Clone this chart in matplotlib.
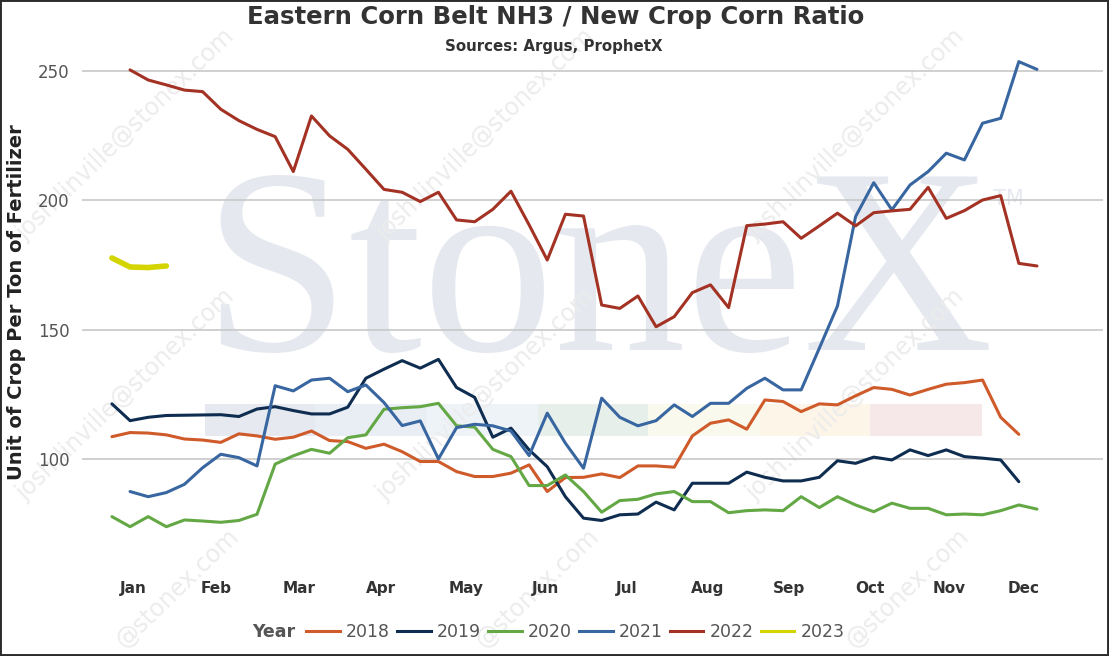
import numpy as np
import matplotlib
matplotlib.use('Agg')
import matplotlib.pyplot as plt
from matplotlib.lines import Line2D
from matplotlib.patches import Rectangle

# Datos semanales (valor), primera semana de cada serie
years = ['2018', '2019', '2020', '2021', '2022', '2023']
start_week = {'2018': -1, '2019': -1, '2020': -1, '2021': 0, '2022': 0, '2023': -1}

r2018 = [108.6, 110.2, 110.0, 109.3, 107.7, 107.3, 106.4, 109.7, 108.9, 107.6,
         108.4, 110.8, 107.1, 106.7, 104.1, 105.7, 102.8, 99.0, 99.0, 95.1,
         93.2, 93.2, 94.5, 97.7, 87.4, 92.8, 92.9, 94.2, 92.8, 97.3,
         97.3, 96.8, 108.9, 113.8, 115.1, 111.5, 122.8, 122.2, 118.3, 121.3,
         120.9, 124.4, 127.6, 126.9, 124.7, 126.9, 128.9, 129.5, 130.5, 116.1,
         109.5]
r2019 = [121.3, 114.8, 116.1, 116.8, 116.9, 117.0, 117.1, 116.4, 119.3, 120.2,
         118.7, 117.4, 117.4, 120.0, 131.2, 134.7, 138.0, 135.1, 138.5, 127.6,
         123.8, 108.4, 111.9, 103.5, 97.0, 85.4, 77.1, 76.2, 78.4, 78.7,
         83.3, 80.3, 90.6, 90.6, 90.6, 94.9, 92.9, 91.5, 91.5, 92.9,
         99.3, 98.3, 100.7, 99.6, 103.5, 101.3, 103.5, 100.9, 100.3, 99.6,
         91.2]
r2020 = [77.7, 73.8, 77.7, 73.8, 76.4, 76.0, 75.5, 76.2, 78.6, 98.0,
         101.2, 103.7, 102.2, 108.2, 109.3, 119.2, 119.8, 120.2, 121.5, 112.8,
         112.3, 103.7, 100.9, 89.7, 89.7, 93.8, 87.4, 79.4, 83.9, 84.4,
         86.5, 87.4, 83.5, 83.5, 79.2, 80.0, 80.3, 80.0, 85.4, 81.2,
         85.4, 82.2, 79.6, 82.9, 80.9, 80.9, 78.4, 78.7, 78.4, 80.0,
         82.2, 80.6]
r2021 = [87.4, 85.4, 87.0, 90.2, 96.6, 101.8, 100.5, 97.3, 128.3, 126.3,
         130.5, 131.2, 126.0, 128.6, 121.8, 112.9, 114.7, 100.0, 112.1, 113.4,
         112.8, 110.8, 101.3, 117.7, 106.1, 96.4, 123.5, 116.1, 112.8, 114.8,
         120.9, 116.4, 121.5, 121.5, 127.3, 131.2, 126.7, 126.7, 142.8, 159.1,
         193.7, 206.8, 196.3, 205.9, 211.1, 218.2, 215.6, 229.8, 231.7, 253.6,
         250.6]
r2022 = [250.4, 246.5, 244.6, 242.6, 242.0, 235.2, 230.8, 227.4, 224.6, 211.1,
         232.6, 224.9, 219.7, 212.0, 204.2, 203.1, 199.5, 203.1, 192.4, 191.7,
         196.5, 203.5, 190.5, 176.9, 194.6, 193.9, 159.5, 158.2, 163.0, 151.1,
         155.0, 164.3, 167.3, 158.5, 190.2, 190.8, 191.7, 185.3, 190.1, 195.0,
         190.1, 195.2, 195.9, 196.5, 205.0, 193.0, 196.0, 200.1, 201.8, 175.6,
         174.6]
r2023 = [177.7, 174.2, 174.0, 174.6]

series = {'2018': r2018, '2019': r2019, '2020': r2020,
          '2021': r2021, '2022': r2022, '2023': r2023}

months = ['Jan', 'Feb', 'Mar', 'Apr', 'May', 'Jun',
          'Jul', 'Aug', 'Sep', 'Oct', 'Nov', 'Dec']
month_pos = [0.17, 4.74, 9.32, 13.84, 18.52, 22.93,
             27.40, 31.86, 36.33, 40.79, 45.15, 49.28]
y_ticks = [100, 150, 200, 250]

colors = {'2018': '#cf5a2a', '2019': '#0e2d50', '2020': '#63a844',
          '2021': '#3866a0', '2022': '#a33224', '2023': '#d4d400'}

W, H = 1109, 656


def fx(px):
    return px / W


def fy(py):
    return 1 - py / H


def marca_agua(fig):
    # Barra de colores del logo
    bar_colors = ['#e6e9ef', '#e9edf4', '#eef3f8', '#e6efea',
                  '#f9f9ee', '#fdf5e8', '#f6e7e9']
    edges = [205, 315, 427, 538, 648, 760, 870, 982]
    for k, c in enumerate(bar_colors):
        r = Rectangle((fx(edges[k]), fy(436)), fx(edges[k + 1] - edges[k]),
                      (436 - 404) / H, transform=fig.transFigure,
                      facecolor=c, edgecolor='none', zorder=-2)
        fig.add_artist(r)
    fig.text(fx(202), fy(350), 'StoneX', ha='left', va='baseline',
             fontsize=190, family='Liberation Serif', color='#e5e9ef',
             zorder=-2)
    fig.text(fx(993), fy(205), 'TM', ha='left', va='baseline',
             fontsize=15, color='#e5e9ef', zorder=-2)
    # Correo repetido en diagonal
    for cx in [125, 485, 855]:
        for cy in [135, 395]:
            fig.text(fx(cx), fy(cy), 'josh.linville@stonex.com',
                     ha='center', va='center', rotation=44, fontsize=17,
                     color='#ececec', zorder=-1)
        # fila inferior: solo se ve la parte final del correo
        fig.text(fx(cx + 53), fy(588), '@stonex.com',
                 ha='center', va='center', rotation=44, fontsize=17,
                 color='#ececec', zorder=-1)


def main():
    fig = plt.figure(figsize=(W / 100, H / 100), dpi=100)
    ax = fig.add_axes([fx(82), fy(573), fx(1103 - 82), (573 - 50) / H])
    ax.set_facecolor('none')

    marca_agua(fig)

    for yr in years:
        vals = series[yr]
        weeks = np.arange(start_week[yr], start_week[yr] + len(vals))
        lw = 4.0 if yr == '2023' else 2.2
        ax.plot(weeks, vals, color=colors[yr], lw=lw, zorder=2,
                solid_capstyle='round', solid_joinstyle='round')

    ax.set_xlim(-2.65, 53.64)
    ax.set_ylim(55.9, 258.1)
    ax.set_yticks(y_ticks)
    ax.set_xticks(month_pos)
    ax.set_xticklabels(months, fontsize=11, fontweight='bold', color='#333333')
    ax.tick_params(axis='y', labelsize=12, labelcolor='#555555', length=0, pad=9)
    ax.tick_params(axis='x', length=0, pad=6)
    ax.grid(axis='y', color='#c8c8c8', lw=1.2)
    ax.set_axisbelow(True)
    for s in ax.spines.values():
        s.set_visible(False)

    fig.text(fx(17), fy(302), 'Unit of Crop Per Ton of Fertilizer', rotation=90,
             ha='center', va='center', fontsize=14, fontweight='bold',
             color='#222222')

    fig.text(fx(556), fy(17), 'Eastern Corn Belt NH3 / New Crop Corn Ratio',
             ha='center', va='center', fontsize=17.6, fontweight='bold',
             color='#333333')
    fig.text(fx(554), fy(47), 'Sources: Argus, ProphetX',
             ha='center', va='center', fontsize=10.8, fontweight='bold',
             color='#333333')

    # Leyenda
    fig.text(fx(252), fy(632), 'Year', ha='left', va='center', fontsize=12.5,
             fontweight='bold', color='#555555')
    handles = [Line2D([], [], color=colors[yr], lw=2.2) for yr in years]
    leg = fig.legend(handles, years, loc='center left',
                     bbox_to_anchor=(fx(306), fy(632)), ncol=6, frameon=False,
                     fontsize=12.5, handlelength=1.95, handletextpad=0.35,
                     columnspacing=0.4, borderpad=0, borderaxespad=0)
    for t in leg.get_texts():
        t.set_color('#555555')

    borde = Rectangle((0, 0), 1, 1, transform=fig.transFigure, fill=False,
                      edgecolor='#2b2b2b', lw=2.8, zorder=10)
    fig.add_artist(borde)

    fig.savefig('out.png', dpi=100)
    plt.close(fig)


if __name__ == "__main__":
    main()
